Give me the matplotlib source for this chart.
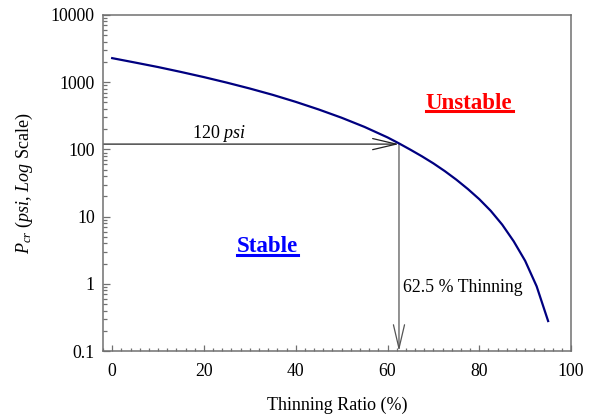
import matplotlib
matplotlib.use("Agg")
import matplotlib.pyplot as plt
from matplotlib.patches import FancyArrowPatch
from matplotlib.lines import Line2D
from matplotlib.ticker import LogLocator, MultipleLocator, FixedLocator, NullFormatter

# ---- data ----
thinning = [0, 5, 10, 15, 20, 25, 30, 35, 40, 45, 50, 55, 60, 62.5, 65,
            67.5, 70, 72.5, 75, 77.5, 80, 82.5, 85, 87.5, 90, 92.5, 95]
pcr = [2280, 1960, 1680, 1420, 1190, 985, 805, 648, 510, 393, 296, 216, 151,
       123, 99, 79, 62, 47.5, 35.5, 25.8, 18.2, 12.2, 7.6, 4.3, 2.2, 0.92, 0.28]
crit_thin = 62.5     # % thinning at the marked point
crit_p = 120         # psi

x_ticks = [0, 20, 40, 60, 80, 100]
y_ticks = [0.1, 1, 10, 100, 1000, 10000]
y_ticklabels = ["0.1", "1", "10", "100", "1000", "10000"]

plt.rcParams.update({
    "font.family": "Liberation Serif",
    "mathtext.fontset": "custom",
    "mathtext.rm": "Liberation Serif",
    "mathtext.it": "Liberation Serif:italic",
})

SPINE = "#707070"
fig = plt.figure(figsize=(5.93, 4.16), dpi=100)
ax = fig.add_axes([0.1737, 0.156, 0.7893, 0.808])

ax.plot(thinning, pcr, color="#000080", lw=1.6, zorder=3)
ax.set_yscale("log")
ax.set_xlim(-2, 100)
ax.set_ylim(0.1, 10000)

ax.xaxis.set_major_locator(FixedLocator(x_ticks))
ax.xaxis.set_minor_locator(MultipleLocator(2))
ax.yaxis.set_major_locator(FixedLocator(y_ticks))
ax.set_yticklabels(y_ticklabels)
ax.yaxis.set_minor_locator(LogLocator(base=10, subs=range(2, 10)))
ax.yaxis.set_minor_formatter(NullFormatter())

ax.tick_params(which="both", direction="in", color=SPINE, width=0.9,
               top=False, right=False, labelsize=12.8)
ax.tick_params(axis="x", which="major", length=4.5, pad=8.5)
ax.tick_params(axis="x", which="minor", length=2.2)
ax.tick_params(axis="y", which="major", length=5, pad=6)
ax.tick_params(axis="y", which="minor", length=2.8)
for sp in ax.spines.values():
    sp.set_color(SPINE)
    sp.set_linewidth(1.1)

ax.set_xlabel("Thinning Ratio (%)", fontsize=13, labelpad=12)
ax.set_ylabel(r"$P_{cr}$ ($psi$, $Log$ Scale)", fontsize=13)
ax.yaxis.set_label_coords(-0.145, 0.5)

# arrows to/from the critical point
arr_h = FancyArrowPatch((-2, crit_p), (crit_thin, crit_p),
                        arrowstyle="->,head_length=0.85,head_width=0.2",
                        mutation_scale=20, color="#222222", lw=0.9,
                        shrinkA=0, shrinkB=0, zorder=2)
arr_v = FancyArrowPatch((crit_thin, crit_p), (crit_thin, 0.1),
                        arrowstyle="->,head_length=0.85,head_width=0.2",
                        mutation_scale=20, color="#555555", lw=0.9,
                        shrinkA=0, shrinkB=0, zorder=2)
ax.add_patch(arr_h)
ax.add_patch(arr_v)

ax.text(23.3, 148, r"120 $psi$", ha="center", va="baseline", fontsize=13)
ax.text(63.4, 0.755, "62.5 % Thinning", ha="left", va="baseline", fontsize=12.8)

t_un = ax.text(77.8, 405, "Unstable", ha="center", va="baseline",
               fontsize=16.5, fontweight="bold", color="#ff0000")
t_st = ax.text(33.9, 2.97, "Stable", ha="center", va="baseline",
               fontsize=16.5, fontweight="bold", color="#0000ff")

# underline the region labels
fig.canvas.draw()
inv = fig.transFigure.inverted()
for t, col in [(t_un, "#ff0000"), (t_st, "#0000ff")]:
    bb = t.get_window_extent()
    (x0, y0), (x1, _) = inv.transform([(bb.x0, bb.y0 + 2.5), (bb.x1, bb.y0 + 2.5)])
    fig.add_artist(Line2D([x0, x1], [y0, y0], color=col, lw=2.2))

fig.savefig("out.png", dpi=100, facecolor="white")
